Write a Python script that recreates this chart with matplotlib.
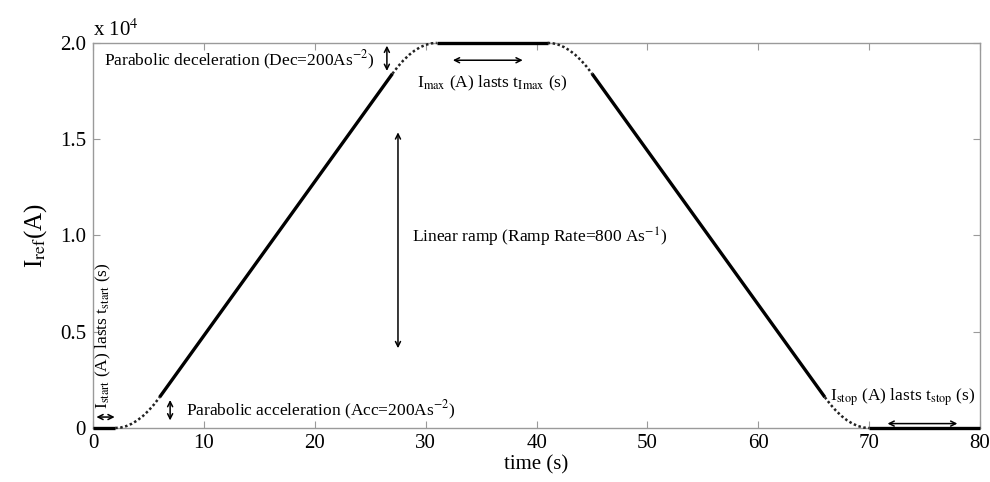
import matplotlib.pyplot as plt

plt.rcParams['font.family'] = ['Liberation Serif', 'DejaVu Serif']
plt.rcParams['mathtext.fontset'] = 'stix'

# current reference profile, piece by piece (time in s, current in A)
t_start = [0, 2]
i_start = [0, 0]

t_acc = [2, 2.5, 3, 3.5, 4, 4.5, 5, 5.5, 6]
i_acc = [0, 25, 100, 225, 400, 625, 900, 1225, 1600]

t_up = [6, 27]
i_up = [1600, 18400]

t_dec = [27, 27.5, 28, 28.5, 29, 29.5, 30, 30.5, 31]
i_dec = [18400, 18775, 19100, 19375, 19600, 19775, 19900, 19975, 20000]

t_max = [31, 41]
i_max = [20000, 20000]

t_dec2 = [41, 41.5, 42, 42.5, 43, 43.5, 44, 44.5, 45]
i_dec2 = [20000, 19975, 19900, 19775, 19600, 19375, 19100, 18775, 18400]

t_down = [45, 66]
i_down = [18400, 1600]

t_acc2 = [66, 66.5, 67, 67.5, 68, 68.5, 69, 69.5, 70]
i_acc2 = [1600, 1225, 900, 625, 400, 225, 100, 25, 0]

t_stop = [70, 80]
i_stop = [0, 0]

xticks = [0, 10, 20, 30, 40, 50, 60, 70, 80]
yticks = [0, 5000, 10000, 15000, 20000]
ylabels = ['0', '0.5', '1.0', '1.5', '2.0']

fig = plt.figure(figsize=(9.9, 4.82), dpi=100)
ax = fig.add_axes([0.094, 0.112, 0.896, 0.799])

solid = dict(color='black', lw=2.4, solid_capstyle='butt', clip_on=False, zorder=5)
dotted = dict(color='#222222', lw=1.8, linestyle=(0, (1.0, 1.0)), clip_on=False, zorder=5)

for t, i in [(t_start, i_start), (t_up, i_up), (t_max, i_max), (t_down, i_down), (t_stop, i_stop)]:
    ax.plot(t, i, **solid)
for t, i in [(t_acc, i_acc), (t_dec, i_dec), (t_dec2, i_dec2), (t_acc2, i_acc2)]:
    ax.plot(t, i, **dotted)

ax.set_xlim(0, 80)
ax.set_ylim(0, 20000)
ax.set_xticks(xticks)
ax.set_yticks(yticks)
ax.set_yticklabels(ylabels)
for s in ax.spines.values():
    s.set_color('#9a9a9a')
    s.set_linewidth(1.0)
ax.tick_params(direction='in', length=5, color='#9a9a9a', labelsize=15,
               top=True, right=True)
ax.tick_params(axis='y', pad=5)
ax.tick_params(axis='x', pad=4)

ax.set_xlabel('time (s)', fontsize=15, labelpad=2)
ax.set_ylabel(r'I$_{\rm ref}$(A)', fontsize=18, labelpad=8)
ax.text(0.0, 1.005, r'x 10$^4$', transform=ax.transAxes, fontsize=15,
        ha='left', va='bottom')

arrow = dict(arrowstyle='<->', color='black', lw=1.1, mutation_scale=9)
fs = 12.5

# parabolic deceleration
ax.annotate('', xy=(26.5, 20000), xytext=(26.5, 18400), arrowprops=arrow)
ax.text(1.0, 19100, r'Parabolic deceleration (Dec=200As$^{-2}$)', fontsize=fs, va='center')

# I max
ax.annotate('', xy=(32.2, 19100), xytext=(39.0, 19100), arrowprops=arrow)
ax.text(36.0, 17900, r'I$_{\rm max}$ (A) lasts t$_{\rm Imax}$ (s)', fontsize=fs,
        ha='center', va='center')

# linear ramp
ax.annotate('', xy=(27.5, 15500), xytext=(27.5, 4000), arrowprops=arrow)
ax.text(28.8, 9900, r'Linear ramp (Ramp Rate=800 As$^{-1}$)', fontsize=fs, va='center')

# parabolic acceleration
ax.annotate('', xy=(6.95, 1600), xytext=(6.95, 250), arrowprops=arrow)
ax.text(8.4, 930, r'Parabolic acceleration (Acc=200As$^{-2}$)', fontsize=fs, va='center')

# I start
ax.annotate('', xy=(0.05, 570), xytext=(2.2, 570), arrowprops=arrow)
ax.text(0.95, 1000, r'I$_{\rm start}$ (A) lasts t$_{\rm start}$ (s)', fontsize=fs,
        rotation=90, ha='center', va='bottom')

# I stop
ax.annotate('', xy=(71.4, 230), xytext=(78.2, 230), arrowprops=arrow)
ax.text(79.6, 1600, r'I$_{\rm stop}$ (A) lasts t$_{\rm stop}$ (s)', fontsize=fs,
        ha='right', va='center')

fig.savefig('out.png', dpi=100)
